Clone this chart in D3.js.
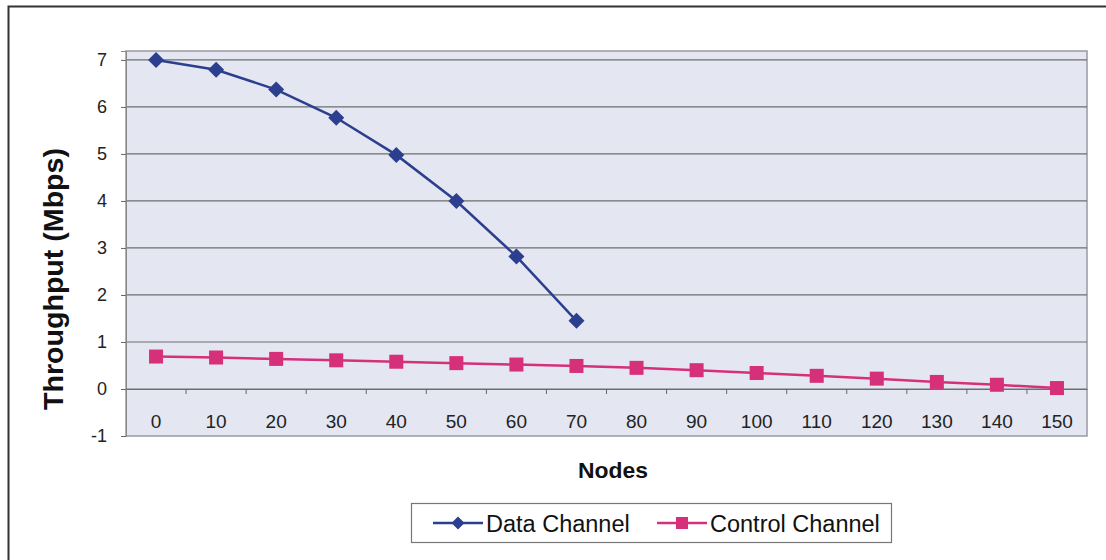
<!DOCTYPE html>
<html><head><meta charset="utf-8">
<script src="https://cdn.jsdelivr.net/npm/d3@7"></script>
<style>body{margin:0;background:#fff;} svg{display:block;font-family:Arial,"Liberation Sans",sans-serif;}</style>
</head><body>
<svg id="c" width="1106" height="560"></svg>
<script>
const nodes = [0,10,20,30,40,50,60,70,80,90,100,110,120,130,140,150];
const dataChannel = [7.0,6.79,6.37,5.77,4.98,4.0,2.82,1.45];
const controlChannel = [0.69,0.67,0.64,0.61,0.58,0.55,0.52,0.49,0.45,0.40,0.34,0.28,0.22,0.15,0.09,0.02];
const yTicks = [-1,0,1,2,3,4,5,6,7];
const seriesNames = ["Data Channel","Control Channel"];

const svg = d3.select("#c");
const L=126, R=1087, T=51, B=436;
const x = d3.scaleBand().domain(nodes).range([L,R]);
const y = d3.scaleLinear().domain([-1,7.19]).range([B,T]);
const diamond = s => `M0,${-s}L${s},0L0,${s}L${-s},0Z`;

// outer border
svg.append("rect").attr("x",8.5).attr("y",6.5).attr("width",1110).attr("height",570)
  .attr("fill","#fff").attr("stroke","#333").attr("stroke-width",2);

// plot area
svg.append("rect").attr("x",L).attr("y",T).attr("width",R-L).attr("height",B-T)
  .attr("fill","#e4e6f1").attr("stroke","#9a9aa0").attr("stroke-width",1.5);

// gridlines
svg.append("g").selectAll("line").data(yTicks.filter(d=>d>-1)).join("line")
  .attr("x1",L).attr("x2",R).attr("y1",d=>y(d)).attr("y2",d=>y(d))
  .attr("stroke","#6e6e6e").attr("stroke-width",1.2);

// y axis
const yAxis = svg.append("g").attr("transform",`translate(${L},0)`)
  .call(d3.axisLeft(y).tickValues(yTicks).tickSize(5).tickPadding(14).tickFormat(d=>String(d)));
yAxis.select(".domain").attr("stroke","#888");
yAxis.selectAll(".tick line").attr("stroke","#666");
yAxis.selectAll("text").attr("font-size",18).attr("fill","#222");

// x axis at y=0
const xAxis = svg.append("g").attr("transform",`translate(0,${y(0)})`)
  .call(d3.axisBottom(x).tickSize(0).tickPadding(26));
xAxis.select(".domain").attr("stroke","#6e6e6e").attr("stroke-width",1.2);
xAxis.selectAll("text").attr("font-size",19).attr("fill","#222");
// tick marks at band boundaries
svg.append("g").selectAll("line").data(nodes.slice(1)).join("line")
  .attr("x1",d=>x(d)).attr("x2",d=>x(d)).attr("y1",y(0)).attr("y2",y(0)+5)
  .attr("stroke","#666");

const cx = d=>x(d)+x.bandwidth()/2;
const line = d3.line().x((d,i)=>cx(nodes[i])).y(d=>y(d));

// control channel
svg.append("path").datum(controlChannel).attr("d",line).attr("fill","none")
  .attr("stroke","#d6307a").attr("stroke-width",2.5);
svg.append("g").selectAll("rect").data(controlChannel).join("rect")
  .attr("x",(d,i)=>cx(nodes[i])-7).attr("y",d=>y(d)-7).attr("width",14).attr("height",14)
  .attr("fill","#d6307a");

// data channel
svg.append("path").datum(dataChannel).attr("d",line).attr("fill","none")
  .attr("stroke","#2b3f8e").attr("stroke-width",2.5);
svg.append("g").selectAll("path").data(dataChannel).join("path")
  .attr("d",diamond(8))
  .attr("transform",(d,i)=>`translate(${cx(nodes[i])},${y(d)})`)
  .attr("fill","#2b3f8e");

// axis titles
svg.append("text").attr("transform","translate(63,279) rotate(-90)")
  .attr("text-anchor","middle").attr("font-size",28).attr("font-weight","bold").attr("fill","#111")
  .attr("textLength",262).attr("lengthAdjust","spacingAndGlyphs")
  .text("Throughput (Mbps)");
svg.append("text").attr("x",613).attr("y",478).attr("text-anchor","middle")
  .attr("font-size",22).attr("font-weight","bold").attr("fill","#111")
  .attr("textLength",70).attr("lengthAdjust","spacingAndGlyphs").text("Nodes");

// legend
const lg = svg.append("g");
lg.append("rect").attr("x",411.5).attr("y",503.5).attr("width",480).attr("height",39)
  .attr("fill","#fff").attr("stroke","#777").attr("stroke-width",1.2);
const items = [
  {name:seriesNames[0], color:"#2b3f8e", sym:"diamond", x:433},
  {name:seriesNames[1], color:"#d6307a", sym:"square", x:657}
];
items.forEach(it=>{
  const g = lg.append("g").attr("transform",`translate(${it.x},523)`);
  g.append("line").attr("x1",0).attr("x2",50).attr("stroke",it.color).attr("stroke-width",2.5);
  if(it.sym==="diamond") g.append("path").attr("d",diamond(6.5)).attr("transform","translate(25,0)").attr("fill",it.color);
  else g.append("rect").attr("x",19).attr("y",-6).attr("width",12).attr("height",12).attr("fill",it.color);
  g.append("text").attr("x",53).attr("y",8.5).attr("font-size",23.5).attr("fill","#111").text(it.name);
});
</script>
</body></html>
